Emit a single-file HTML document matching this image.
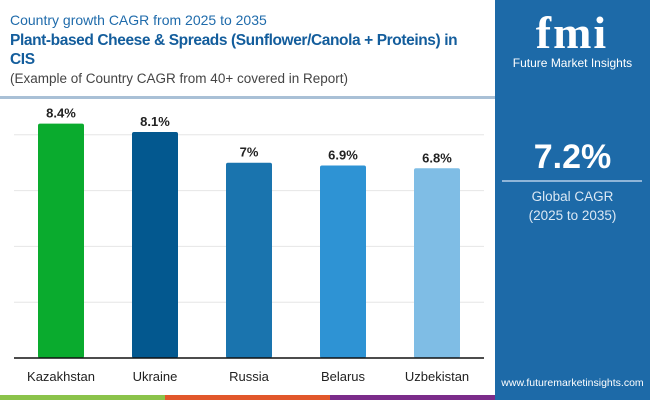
<!DOCTYPE html>
<html><head><meta charset="utf-8"><style>
body{margin:0;width:650px;height:400px;overflow:hidden;background:#fff;font-family:"Liberation Sans",sans-serif;position:relative}
.a{position:absolute}
</style></head><body>
<div class="a" style="left:10px;top:12px;font-size:14px;color:#1f6bab">Country growth CAGR from 2025 to 2035</div>
<div class="a" style="left:10px;top:31px;width:485px;font-size:15.5px;font-weight:bold;color:#135d9c;line-height:19px;letter-spacing:-0.4px">Plant-based Cheese &amp; Spreads (Sunflower/Canola + Proteins) in<br>CIS</div>
<div class="a" style="left:10px;top:71px;font-size:13.5px;color:#444">(Example of Country CAGR from 40+ covered in Report)</div>
<div class="a" style="left:0;top:96px;width:495px;height:3px;background:#a9c0d6"></div>
<svg class="a" style="left:0;top:0" width="495" height="395" id="chart"></svg>
<div class="a" style="left:0;top:395px;width:165px;height:5px;background:#8bc34a"></div>
<div class="a" style="left:165px;top:395px;width:165px;height:5px;background:#e2572b"></div>
<div class="a" style="left:330px;top:395px;width:165px;height:5px;background:#7b2c8a"></div>
<div class="a" style="left:495px;top:0;width:155px;height:400px;background:#1d6aa8">
 <div class="a" style="left:22px;top:6px;width:110px;font-size:46px;font-weight:bold;color:#fff;font-family:'Liberation Serif',serif;letter-spacing:2px;text-align:center">fmi</div>
 <div class="a" style="left:0;top:56px;width:155px;text-align:center;font-size:12px;color:#fff">Future Market Insights</div>
 <div class="a" style="left:0;top:138px;width:155px;text-align:center;font-size:34px;font-weight:bold;color:#fff">7.2%</div>
 <div class="a" style="left:7px;top:180px;width:140px;height:2px;background:#8fb5d8"></div>
 <div class="a" style="left:0;top:187px;width:155px;text-align:center;font-size:13.5px;color:#dbe8f4;line-height:19px">Global CAGR<br>(2025 to 2035)</div>
 <div class="a" style="left:0;top:377px;width:155px;text-align:center;font-size:10.5px;color:#fff">www.futuremarketinsights.com</div>
</div>
<script>
const categories=["Kazakhstan","Ukraine","Russia","Belarus","Uzbekistan"];
const values=[8.4,8.1,7,6.9,6.8];
const labels=["8.4%","8.1%","7%","6.9%","6.8%"];
const gridTicks=[2,4,6,8];
const colors=["#0aab2e","#03588f","#1a74ae","#2e93d4","#7fbde5"];
const svg=document.getElementById('chart');const NS="http://www.w3.org/2000/svg";
const base=358,unit=27.9;
const y=v=>base-v*unit;
const x=i=>61+i*94;
function mk(t,a){const e=document.createElementNS(NS,t);for(const k in a)e.setAttribute(k,a[k]);svg.appendChild(e);return e;}
gridTicks.forEach(t=>{const g=mk('line',{x1:14,x2:484,y1:y(t),y2:y(t),stroke:'#e6e6e6','stroke-width':1});

});
categories.forEach((c,i)=>{
 const r=mk('rect',{x:x(i)-23,y:y(values[i]),width:46,height:values[i]*unit,fill:colors[i],rx:2});
 
 
 const l=mk('text',{x:x(i),y:y(values[i])-6,'text-anchor':'middle','font-size':13,'font-weight':'bold',fill:'#222'});l.textContent=labels[i];
 
 
 const t=mk('text',{x:x(i),y:381,'text-anchor':'middle','font-size':13,fill:'#222'});t.textContent=c;
 
 
});
const ax=mk('line',{x1:14,x2:484,y1:base,y2:base,stroke:'#111','stroke-width':1.5});


</script>
</body></html>
